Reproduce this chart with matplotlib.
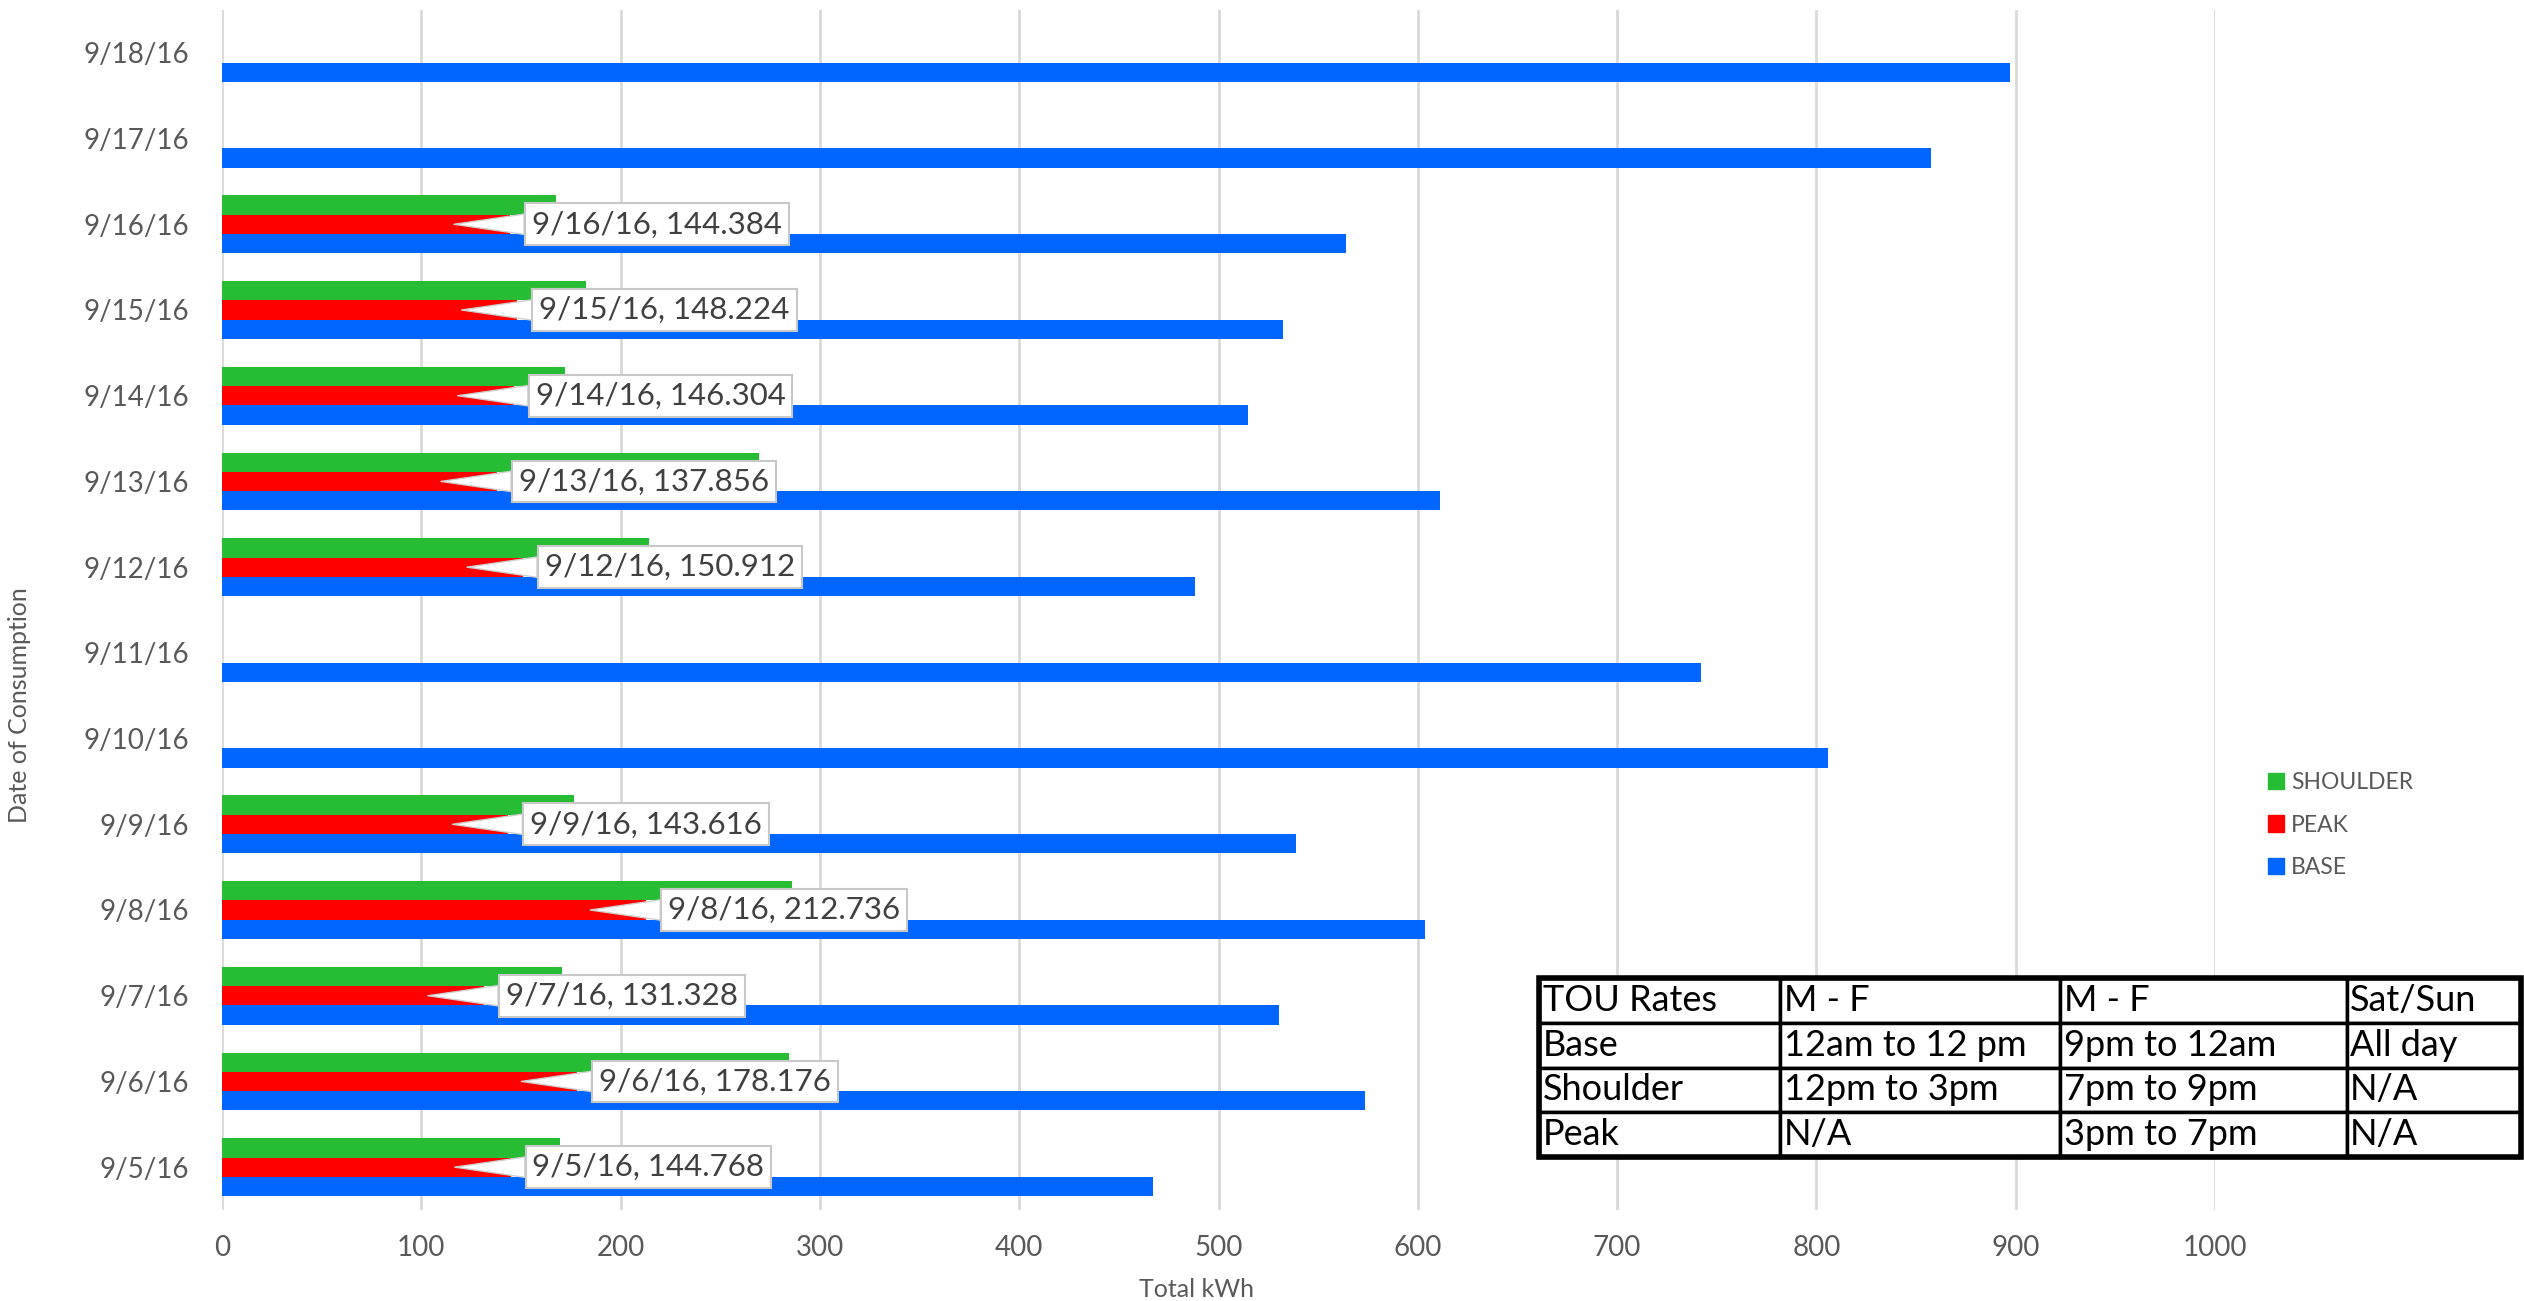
import numpy as np
import matplotlib
matplotlib.use("Agg")
import matplotlib.pyplot as plt
from matplotlib.patches import Patch, Rectangle

plt.rcParams['font.family'] = ['Lato', 'DejaVu Sans']

# ---------------------------
# DATA (bottom to top)
# ---------------------------
dates = ['9/5/16', '9/6/16', '9/7/16', '9/8/16', '9/9/16', '9/10/16', '9/11/16',
         '9/12/16', '9/13/16', '9/14/16', '9/15/16', '9/16/16', '9/17/16', '9/18/16']
base = [467.1, 573.4, 530.6, 603.6, 539.1, 806.0, 741.9,
        488.1, 611.0, 514.8, 532.5, 563.9, 857.5, 897.2]
peak = [144.768, 178.176, 131.328, 212.736, 143.616, np.nan, np.nan,
        150.912, 137.856, 146.304, 148.224, 144.384, np.nan, np.nan]
shoulder = [169.8, 284.4, 170.4, 285.9, 176.6, np.nan, np.nan,
            214.1, 269.4, 172.3, 182.4, 167.4, np.nan, np.nan]
xticks = [0, 100, 200, 300, 400, 500, 600, 700, 800, 900, 1000]

table_rows = [['TOU Rates', 'M - F', 'M - F', 'Sat/Sun'],
              ['Base', '12am to 12 pm', '9pm to 12am', 'All day'],
              ['Shoulder', '12pm to 3pm', '7pm to 9pm', 'N/A'],
              ['Peak', 'N/A', '3pm to 7pm', 'N/A']]
table_col_widths = [241, 280, 287, 174]

BLUE, RED, GREEN = '#0066FF', '#FF0000', '#26BD34'
GREY = '#595959'

# ---------------------------
# PLOT
# ---------------------------
W, H = 2524, 1301
fig = plt.figure(figsize=(W / 100, H / 100), dpi=100)
ax = fig.add_axes([222 / W, 91 / H, (2215 - 222) / W, 1200 / H])

y = np.arange(len(dates))
off = 0.225
ax.barh(y - off, base, height=off, color=BLUE, zorder=2)
ax.barh(y, peak, height=off, color=RED, zorder=2)
ax.barh(y + off, shoulder, height=off, color=GREEN, zorder=2)

# callout labels on the peak bars
for i, (d, p) in enumerate(zip(dates, peak)):
    if np.isnan(p):
        continue
    ax.annotate(f"{d}, {p:.3f}", xy=(p - 28, i), xytext=(p + 11, i),
                ha='left', va='center', fontsize=22.5, color='#404040', zorder=5,
                bbox=dict(boxstyle='square,pad=0.22', fc='white', ec='#c8c8c8', lw=1.5),
                arrowprops=dict(arrowstyle='wedge,tail_width=0.65,shrink_factor=0.5',
                                fc='white', ec='#d0d0d0', lw=1, shrinkA=0, shrinkB=0))

ax.set_xlim(0, 1000)
ax.set_ylim(-0.5, len(dates) - 0.5)
ax.set_xticks(xticks)
ax.set_yticks(y)
ax.set_yticklabels(dates)
ax.tick_params(axis='both', length=0, labelsize=20, colors=GREY)
ax.tick_params(axis='y', pad=24)
ax.tick_params(axis='x', pad=18)
ax.xaxis.grid(True, color='#d9d9d9', lw=2)
ax.set_axisbelow(True)
for s in ax.spines.values():
    s.set_visible(False)

ax.set_xlabel('Total kWh', fontsize=18, color=GREY)
ax.xaxis.set_label_coords(0.489, -0.057)
ax.set_ylabel('Date of Consumption', fontsize=18, color=GREY)
ax.yaxis.set_label_coords(-0.096, 0.421)

# legend
handles = [Patch(color=GREEN), Patch(color=RED), Patch(color=BLUE)]
ax.legend(handles, ['SHOULDER', 'PEAK', 'BASE'], loc='center left',
          bbox_to_anchor=(2268 / W, 1 - 825 / H), bbox_transform=fig.transFigure,
          frameon=False, fontsize=16.5, labelcolor=GREY, handlelength=0.7,
          handleheight=0.7, handletextpad=0.3, labelspacing=0.95,
          borderpad=0, borderaxespad=0)

# TOU rates table
tax = fig.add_axes([1539 / W, 1 - 1157 / H, (2521 - 1539) / W, (1157 - 978) / H])
tax.axis('off')
cw = np.array(table_col_widths) / sum(table_col_widths)
tbl = tax.table(cellText=table_rows, colWidths=list(cw), bbox=[0, 0, 1, 1], cellLoc='left')
tbl.auto_set_font_size(False)
for (r, c), cell in tbl.get_celld().items():
    cell.set_edgecolor('black')
    cell.set_linewidth(2.5)
    cell.set_facecolor('white')
    cell.PAD = 0.015
    cell.get_text().set_fontsize(26)
    cell.get_text().set_color('black')
tax.add_patch(Rectangle((0, 0), 1, 1, transform=tax.transAxes, fill=False,
                        ec='black', lw=4, clip_on=False))

fig.savefig('out.png', dpi=100, facecolor='white')
